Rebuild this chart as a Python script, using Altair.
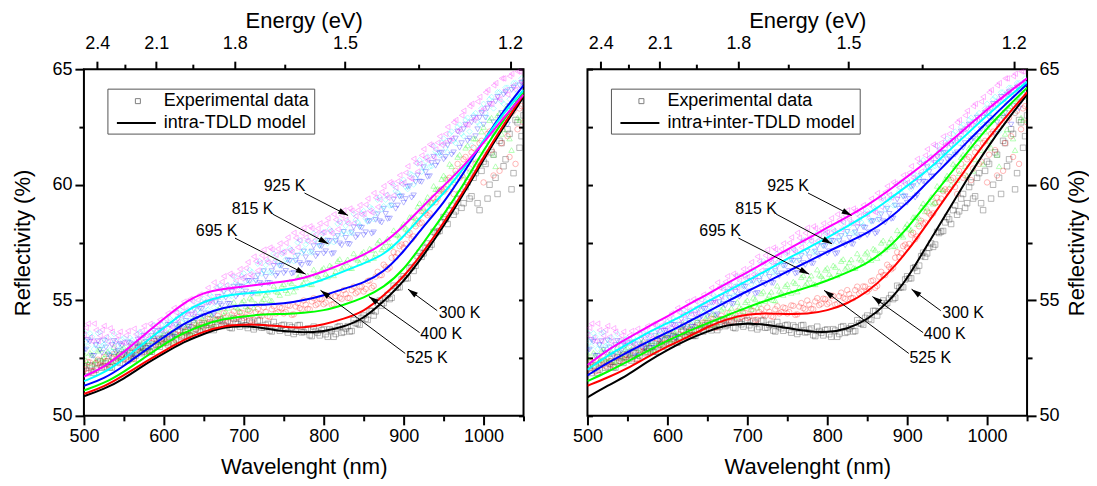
import math
import altair as alt
import pandas as pd

FONT = "Arial"
HC = 1239.84
W, H = 440, 347

TEMPS = ["300 K", "400 K", "525 K", "695 K", "815 K", "925 K"]
COLORS = ["#000000", "#FF0000", "#00FF00", "#0000FF", "#00FFFF", "#FF00FF"]
SHAPES = ["square", "circle", "triangle-up", "triangle-down", "diamond", "triangle-left"]

WAVELENGTH = [
    500, 505, 510, 515, 520, 525, 530, 535, 540, 545,
    550, 555, 560, 565, 570, 575, 580, 585, 590, 595,
    600, 605, 610, 615, 620, 625, 630, 635, 640, 645,
    650, 655, 660, 665, 670, 675, 680, 685, 690, 695,
    700, 705, 710, 715, 720, 725, 730, 735, 740, 745,
    750, 755, 760, 765, 770, 775, 780, 785, 790, 795,
    800, 805, 810, 815, 820, 825, 830, 835, 840, 845,
    850, 855, 860, 865, 870, 875, 880, 885, 890, 895,
    900, 905, 910, 915, 920, 925, 930, 935, 940, 945,
    950, 955, 960, 965, 970, 975, 980, 985, 990, 995,
    1000, 1005, 1010, 1015, 1020, 1025, 1030, 1035, 1040, 1045,
    1050,
]
WAVELENGTH_MID = [
    502.5, 507.5, 512.5, 517.5, 522.5, 527.5, 532.5, 537.5, 542.5, 547.5,
    552.5, 557.5, 562.5, 567.5, 572.5, 577.5, 582.5, 587.5, 592.5, 597.5,
    602.5, 607.5, 612.5, 617.5, 622.5, 627.5, 632.5, 637.5, 642.5, 647.5,
    652.5, 657.5, 662.5, 667.5, 672.5, 677.5, 682.5, 687.5, 692.5, 697.5,
    702.5, 707.5, 712.5, 717.5, 722.5, 727.5, 732.5, 737.5, 742.5, 747.5,
    752.5, 757.5, 762.5, 767.5, 772.5, 777.5, 782.5, 787.5, 792.5, 797.5,
    802.5, 807.5, 812.5, 817.5, 822.5, 827.5, 832.5, 837.5, 842.5, 847.5,
    852.5, 857.5, 862.5, 867.5, 872.5, 877.5, 882.5, 887.5, 892.5, 897.5,
    902.5, 907.5, 912.5, 917.5, 922.5, 927.5, 932.5, 937.5, 942.5, 947.5,
    952.5, 957.5, 962.5, 967.5, 972.5, 977.5, 982.5, 987.5, 992.5, 997.5,
    1002.5, 1007.5, 1012.5, 1017.5, 1022.5, 1027.5, 1032.5, 1037.5, 1042.5, 1047.5,
]

EXP_300 = [
    52.14, 51.85, 52.14, 52.0, 52.36, 52.13, 52.35, 52.09, 52.38, 52.29,
    52.64, 52.39, 52.71, 52.61, 52.99, 52.78, 53.02, 52.78, 53.09, 52.99,
    53.34, 53.09, 53.41, 53.31, 53.69, 53.48, 53.71, 53.46, 53.76, 53.65,
    53.99, 53.7, 53.98, 53.84, 54.18, 53.93, 54.1, 53.79, 54.03, 53.86,
    54.14, 53.8, 54.03, 53.84, 54.13, 53.83, 53.98, 53.65, 53.87, 53.68,
    53.94, 53.6, 53.83, 53.64, 53.93, 53.63, 53.78, 53.45, 53.67, 53.48,
    53.74, 53.42, 53.69, 53.54, 53.88, 53.63, 53.88, 53.67, 54.01, 53.94,
    54.34, 54.15, 54.54, 54.52, 54.99, 54.88, 55.23, 55.11, 55.54, 55.56,
    56.04, 55.95, 56.43, 56.5, 57.06, 57.03, 57.46, 57.41, 57.91, 58.0,
    58.6, 58.3, 59.1, 58.85, 59.6, 59.2, 60.1, 59.5, 60.5, 58.9,
    61.0, 59.4, 61.4, 60.3, 61.9, 60.8, 62.4, 59.8, 62.8, 61.6,
    63.0,
]
EXP_300_MID = [
    51.95, 52.19, 51.87, 52.3, 52.08, 52.26, 52.1, 52.53, 52.35, 52.56,
    52.46, 52.74, 52.46, 52.92, 52.71, 52.92, 52.77, 53.23, 53.06, 53.27,
    53.16, 53.44, 53.16, 53.62, 53.41, 53.62, 53.46, 53.91, 53.72, 53.92,
    53.79, 54.04, 53.71, 54.14, 53.88, 54.04, 53.82, 54.21, 53.96, 54.1,
    53.92, 54.11, 53.74, 54.11, 53.81, 53.93, 53.69, 54.06, 53.79, 53.91,
    53.72, 53.91, 53.54, 53.91, 53.61, 53.73, 53.49, 53.86, 53.59, 53.71,
    53.53, 53.75, 53.42, 53.84, 53.59, 53.78, 53.65, 54.14, 53.99, 54.24,
    54.2, 54.54, 54.34, 54.88, 54.77, 55.08, 55.05, 55.63, 55.57, 55.9,
    55.95, 56.39, 56.27, 56.91, 56.88, 57.27, 57.31, 57.96, 57.97, 58.37,
    58.5, 58.9, 58.7, 59.4, 59.0, 59.9, 59.4, 60.3, 59.2, 60.6,
    60.9, 60.0, 61.3, 59.6, 61.8, 61.1, 62.2, 60.5, 62.7, 62.1,
]
EXP_400 = [
    51.98, 52.33, 51.93, 52.28, 52.21, 52.54, 52.19, 52.52, 52.37, 52.66,
    52.43, 52.82, 52.45, 52.84, 52.79, 53.14, 52.81, 53.16, 53.03, 53.34,
    53.13, 53.52, 53.15, 53.54, 53.49, 53.84, 53.51, 53.86, 53.73, 54.04,
    53.83, 54.2, 53.81, 54.18, 54.11, 54.44, 54.07, 54.38, 54.21, 54.48,
    54.23, 54.57, 54.15, 54.49, 54.39, 54.69, 54.31, 54.61, 54.43, 54.69,
    54.43, 54.78, 54.37, 54.73, 54.66, 54.99, 54.63, 54.95, 54.79, 55.07,
    54.83, 55.2, 54.81, 55.18, 55.11, 55.44, 55.1, 55.44, 55.3, 55.6,
    55.38, 55.83, 55.54, 56.02, 56.08, 56.54, 56.34, 56.84, 56.87, 57.34,
    57.28, 57.84, 57.64, 58.2, 58.32, 58.84, 58.68, 59.2, 59.24, 59.72,
    59.7, 60.2, 59.9, 60.6, 60.3, 61.1, 60.2, 61.4, 60.9, 61.8,
    60.1, 62.2, 61.5, 62.5, 60.6, 62.8, 62.1, 63.1, 60.9, 63.3,
    62.7,
]
EXP_400_MID = [
    52.04, 52.31, 51.95, 52.43, 52.16, 52.37, 52.18, 52.67, 52.44, 52.65,
    52.51, 52.82, 52.49, 53.0, 52.75, 52.98, 52.8, 53.32, 53.11, 53.34,
    53.21, 53.52, 53.19, 53.7, 53.45, 53.68, 53.51, 54.02, 53.81, 54.04,
    53.9, 54.19, 53.84, 54.33, 54.06, 54.26, 54.05, 54.52, 54.27, 54.46,
    54.28, 54.54, 54.16, 54.62, 54.32, 54.5, 54.28, 54.74, 54.48, 54.66,
    54.49, 54.76, 54.39, 54.88, 54.61, 54.81, 54.61, 55.09, 54.85, 55.05,
    54.9, 55.19, 54.84, 55.33, 55.06, 55.27, 55.09, 55.59, 55.37, 55.59,
    55.49, 55.86, 55.62, 56.23, 56.09, 56.44, 56.41, 57.08, 57.03, 57.41,
    57.44, 57.92, 57.76, 58.44, 58.36, 58.76, 58.76, 59.44, 59.4, 59.8,
    59.8, 60.3, 59.6, 60.9, 60.4, 61.2, 60.7, 61.6, 61.0, 61.9,
    61.3, 62.3, 60.4, 62.6, 61.8, 62.9, 61.2, 63.2, 62.4, 63.4,
]
EXP_525 = [
    52.7, 52.27, 52.64, 52.41, 52.88, 52.5, 52.78, 52.36, 52.74, 52.52,
    52.95, 52.55, 52.95, 52.75, 53.25, 52.9, 53.22, 52.84, 53.26, 53.08,
    53.55, 53.18, 53.61, 53.44, 53.97, 53.65, 53.97, 53.59, 54.01, 53.83,
    54.3, 53.92, 54.34, 54.16, 54.68, 54.35, 54.67, 54.29, 54.71, 54.53,
    55.0, 54.62, 55.04, 54.86, 55.38, 55.05, 55.37, 54.99, 55.41, 55.23,
    55.7, 55.32, 55.74, 55.56, 56.08, 55.75, 56.07, 55.69, 56.11, 55.93,
    56.4, 56.02, 56.44, 56.26, 56.78, 56.45, 56.77, 56.39, 56.81, 56.63,
    57.1, 56.74, 57.18, 57.03, 57.59, 57.3, 57.67, 57.36, 57.85, 57.75,
    58.3, 58.05, 58.6, 58.55, 59.2, 59.0, 59.47, 59.24, 59.81, 59.78,
    60.4, 60.0, 60.8, 60.5, 61.3, 60.4, 61.7, 61.1, 62.0, 60.9,
    62.5, 61.6, 62.9, 60.8, 63.1, 62.4, 63.4, 61.5, 63.7, 62.8,
    63.9,
]
EXP_525_MID = [
    52.41, 52.73, 52.25, 52.82, 52.44, 52.67, 52.4, 52.98, 52.66, 52.89,
    52.68, 53.03, 52.58, 53.18, 52.83, 53.09, 52.86, 53.48, 53.2, 53.47,
    53.29, 53.67, 53.25, 53.88, 53.56, 53.84, 53.61, 54.23, 53.95, 54.22,
    54.04, 54.41, 53.98, 54.6, 54.27, 54.54, 54.31, 54.93, 54.65, 54.92,
    54.74, 55.11, 54.68, 55.3, 54.97, 55.24, 55.01, 55.63, 55.35, 55.62,
    55.44, 55.81, 55.38, 56.0, 55.67, 55.94, 55.71, 56.33, 56.05, 56.32,
    56.14, 56.51, 56.08, 56.7, 56.37, 56.64, 56.41, 57.03, 56.75, 57.02,
    56.85, 57.24, 56.83, 57.49, 57.2, 57.51, 57.34, 58.03, 57.83, 58.18,
    58.1, 58.6, 58.3, 59.05, 58.85, 59.26, 59.18, 59.95, 59.82, 60.24,
    60.3, 60.9, 60.2, 61.2, 60.8, 61.6, 60.6, 62.0, 61.5, 62.3,
    61.9, 62.8, 61.3, 63.0, 62.2, 63.3, 62.0, 63.6, 62.9, 63.8,
]
EXP_695 = [
    52.82, 53.28, 52.6, 53.06, 52.86, 53.26, 52.65, 53.06, 52.75, 53.1,
    52.67, 53.18, 52.56, 53.09, 52.97, 53.46, 52.94, 53.45, 53.24, 53.69,
    53.37, 53.94, 53.37, 53.94, 53.85, 54.36, 53.86, 54.38, 54.18, 54.64,
    54.32, 54.9, 54.34, 54.92, 54.84, 55.36, 54.85, 55.36, 55.15, 55.6,
    55.27, 55.84, 55.27, 55.84, 55.75, 56.26, 55.75, 56.26, 56.05, 56.5,
    56.17, 56.73, 56.15, 56.71, 56.61, 57.11, 56.6, 57.11, 56.9, 57.35,
    57.02, 57.58, 57.0, 57.56, 57.46, 57.96, 57.44, 57.94, 57.72, 58.16,
    57.82, 58.42, 57.88, 58.48, 58.42, 58.96, 58.52, 59.1, 58.96, 59.48,
    59.22, 59.9, 59.44, 60.12, 60.14, 60.76, 60.34, 60.94, 60.82, 61.36,
    61.1, 61.7, 61.3, 62.0, 61.6, 62.4, 61.9, 62.7, 62.1, 62.9,
    62.6, 63.3, 62.2, 63.6, 62.9, 63.9, 62.6, 64.1, 63.3, 64.3,
    63.9,
]
EXP_695_MID = [
    52.87, 53.21, 52.59, 53.23, 52.73, 52.96, 52.59, 53.24, 52.81, 53.04,
    52.75, 53.14, 52.59, 53.3, 52.89, 53.2, 52.93, 53.68, 53.35, 53.68,
    53.48, 53.93, 53.42, 54.17, 53.78, 54.11, 53.85, 54.61, 54.29, 54.63,
    54.43, 54.89, 54.39, 55.15, 54.77, 55.11, 54.84, 55.59, 55.26, 55.59,
    55.38, 55.83, 55.32, 56.07, 55.68, 56.01, 55.74, 56.49, 56.16, 56.49,
    56.27, 56.71, 56.19, 56.93, 56.53, 56.86, 56.59, 57.34, 57.01, 57.34,
    57.12, 57.56, 57.04, 57.78, 57.38, 57.7, 57.42, 58.16, 57.82, 58.14,
    57.94, 58.42, 57.94, 58.72, 58.36, 58.74, 58.54, 59.36, 59.1, 59.5,
    59.38, 59.94, 59.54, 60.4, 60.12, 60.55, 60.37, 61.21, 60.97, 61.39,
    61.2, 61.9, 61.4, 62.3, 61.8, 62.6, 62.0, 62.9, 62.4, 63.1,
    62.9, 63.5, 62.7, 63.8, 63.1, 64.0, 63.4, 64.2, 63.6, 64.4,
]
EXP_815 = [
    53.61, 53.0, 53.42, 53.06, 53.62, 53.07, 53.38, 52.77, 53.21, 52.86,
    53.36, 52.79, 53.27, 52.99, 53.64, 53.17, 53.6, 53.11, 53.67, 53.44,
    54.06, 53.58, 54.13, 53.9, 54.59, 54.17, 54.6, 54.11, 54.67, 54.44,
    55.06, 54.59, 55.15, 54.93, 55.63, 55.22, 55.66, 55.18, 55.75, 55.53,
    56.16, 55.68, 56.23, 56.0, 56.69, 56.27, 56.69, 56.19, 56.74, 56.5,
    57.11, 56.62, 57.16, 56.92, 57.6, 57.17, 57.58, 57.07, 57.61, 57.36,
    57.96, 57.46, 57.99, 57.74, 58.41, 57.97, 58.4, 57.91, 58.47, 58.24,
    58.86, 58.4, 58.97, 58.76, 59.47, 59.07, 59.55, 59.11, 59.72, 59.54,
    60.21, 59.81, 60.44, 60.29, 61.06, 60.72, 61.22, 60.8, 61.43, 61.27,
    62.0, 61.4, 62.3, 61.8, 62.6, 62.1, 62.9, 61.7, 63.1, 62.6,
    63.5, 62.9, 63.8, 62.3, 64.0, 63.5, 64.2, 63.1, 64.4, 63.8,
    64.5,
]
EXP_815_MID = [
    53.21, 53.57, 52.89, 53.58, 53.02, 53.26, 52.84, 53.54, 53.06, 53.31,
    52.97, 53.38, 52.77, 53.55, 53.08, 53.42, 53.12, 53.94, 53.58, 53.95,
    53.72, 54.21, 53.66, 54.48, 54.05, 54.42, 54.12, 54.94, 54.58, 54.95,
    54.73, 55.23, 54.69, 55.52, 55.1, 55.48, 55.19, 56.02, 55.67, 56.05,
    55.82, 56.31, 55.76, 56.58, 56.15, 56.52, 56.21, 57.02, 56.65, 57.01,
    56.77, 57.25, 56.69, 57.5, 57.06, 57.41, 57.09, 57.89, 57.51, 57.86,
    57.61, 58.08, 57.51, 58.31, 57.86, 58.22, 57.92, 58.74, 58.38, 58.75,
    58.53, 59.04, 58.51, 59.35, 58.94, 59.35, 59.1, 59.97, 59.66, 60.08,
    59.91, 60.48, 60.01, 60.91, 60.56, 61.01, 60.78, 61.67, 61.38, 61.82,
    61.6, 62.2, 61.9, 62.5, 62.2, 62.8, 62.3, 63.0, 62.7, 63.3,
    63.1, 63.7, 63.3, 64.0, 63.6, 64.2, 63.7, 64.4, 64.0, 64.6,
]
EXP_925 = [
    53.5, 53.99, 53.23, 53.71, 53.47, 53.89, 53.21, 53.64, 53.28, 53.64,
    53.15, 53.67, 52.97, 53.53, 53.38, 53.89, 53.34, 53.9, 53.67, 54.16,
    53.8, 54.44, 53.83, 54.46, 54.37, 54.94, 54.4, 54.97, 54.75, 55.25,
    54.9, 55.54, 54.93, 55.56, 55.47, 56.04, 55.5, 56.07, 55.85, 56.35,
    56.0, 56.65, 56.05, 56.69, 56.61, 57.19, 56.64, 57.2, 56.97, 57.46,
    57.1, 57.72, 57.09, 57.7, 57.59, 58.14, 57.57, 58.11, 57.86, 58.33,
    57.95, 58.55, 57.9, 58.49, 58.36, 58.89, 58.33, 58.88, 58.64, 59.12,
    58.75, 59.4, 58.8, 59.44, 59.36, 59.94, 59.44, 60.05, 59.87, 60.41,
    60.1, 60.8, 60.25, 60.94, 60.91, 61.54, 61.06, 61.69, 61.53, 62.09,
    61.8, 62.5, 62.0, 62.8, 62.4, 63.2, 62.6, 63.5, 62.9, 63.8,
    63.3, 64.1, 63.5, 64.4, 63.7, 64.6, 63.9, 64.8, 64.1, 64.9,
    64.4,
]
EXP_925_MID = [
    53.81, 53.38, 53.99, 53.23, 53.72, 53.42, 53.79, 53.04, 53.47, 53.17,
    53.48, 53.09, 53.77, 53.1, 53.68, 53.48, 53.98, 53.36, 53.92, 53.75,
    54.19, 53.91, 54.67, 54.06, 54.7, 54.54, 55.05, 54.44, 55.01, 54.85,
    55.29, 55.01, 55.77, 55.16, 55.8, 55.64, 56.15, 55.54, 56.11, 55.95,
    56.39, 56.12, 56.89, 56.29, 56.94, 56.78, 57.28, 56.66, 57.22, 57.05,
    57.48, 57.18, 57.92, 57.29, 57.91, 57.72, 58.2, 57.56, 58.1, 57.91,
    58.32, 58.0, 58.72, 58.07, 58.67, 58.48, 58.97, 58.34, 58.89, 58.71,
    59.14, 58.87, 59.64, 59.04, 59.69, 59.56, 60.11, 59.54, 60.15, 60.03,
    60.52, 60.3, 61.12, 60.57, 61.27, 61.17, 61.74, 61.19, 61.82, 61.72,
    62.2, 61.9, 62.7, 62.3, 63.0, 62.6, 63.4, 62.8, 63.6, 63.2,
    64.0, 63.5, 64.3, 63.8, 64.6, 64.1, 64.7, 64.3, 64.9, 64.5,
]
EXP = [EXP_300, EXP_400, EXP_525, EXP_695, EXP_815, EXP_925]
EXP_MID = [EXP_300_MID, EXP_400_MID, EXP_525_MID, EXP_695_MID, EXP_815_MID, EXP_925_MID]

MODEL_WL = [500, 525, 550, 575, 600, 625, 650, 675, 700, 725, 750, 775,
            800, 825, 850, 875, 900, 925, 950, 975, 1000, 1025, 1050]

# intra-TDLD model (left panel)
LEFT_300 = [50.85, 51.15, 51.6, 52.2, 52.7, 53.2, 53.55, 53.85, 53.9, 53.8, 53.65, 53.6,
            53.65, 53.85, 54.2, 54.95, 55.8, 56.95, 58.2, 59.6, 61.1, 62.5, 63.8]
LEFT_400 = [50.95, 51.25, 51.75, 52.3, 52.8, 53.3, 53.65, 53.9, 53.95, 53.95, 53.85, 53.8,
            53.95, 54.2, 54.5, 55.2, 56.0, 57.1, 58.35, 59.7, 61.2, 62.6, 63.9]
LEFT_525 = [51.1, 51.4, 51.9, 52.5, 53.1, 53.6, 53.95, 54.2, 54.3, 54.4, 54.4, 54.45,
            54.55, 54.8, 55.1, 55.55, 56.3, 57.5, 58.7, 60.0, 61.5, 62.8, 64.0]
LEFT_695 = [51.3, 51.6, 52.15, 52.8, 53.4, 54.0, 54.4, 54.7, 54.8, 54.8, 54.85, 55.0,
            55.2, 55.5, 55.75, 56.2, 57.1, 58.2, 59.2, 60.5, 61.9, 63.2, 64.3]
LEFT_815 = [51.5, 51.85, 52.45, 53.15, 53.8, 54.5, 54.95, 55.2, 55.3, 55.35, 55.45, 55.6,
            55.9, 56.25, 56.6, 56.95, 57.75, 58.75, 59.6, 60.7, 61.9, 63.1, 64.1]
LEFT_925 = [51.7, 52.1, 52.75, 53.5, 54.2, 54.9, 55.35, 55.5, 55.6, 55.7, 55.8, 55.95,
            56.25, 56.6, 56.95, 57.45, 58.2, 59.1, 59.95, 60.8, 61.8, 62.9, 63.9]
LEFT_MODEL = [LEFT_300, LEFT_400, LEFT_525, LEFT_695, LEFT_815, LEFT_925]

# intra+inter-TDLD model (right panel)
RIGHT_300 = [50.8, 51.3, 51.75, 52.35, 52.85, 53.3, 53.65, 53.95, 54.0, 53.95, 53.8, 53.65,
             53.6, 53.75, 54.15, 54.85, 55.9, 57.4, 58.8, 60.25, 61.6, 62.8, 63.9]
RIGHT_400 = [51.3, 51.65, 52.05, 52.55, 53.0, 53.4, 53.85, 54.2, 54.4, 54.45, 54.4, 54.4,
             54.55, 54.85, 55.35, 56.1, 57.1, 58.3, 59.55, 60.75, 61.95, 63.0, 64.0]
RIGHT_525 = [51.5, 51.9, 52.35, 52.8, 53.25, 53.65, 54.0, 54.35, 54.7, 55.0, 55.3, 55.55,
             55.85, 56.2, 56.6, 57.2, 58.1, 59.2, 60.3, 61.4, 62.45, 63.35, 64.2]
RIGHT_695 = [51.75, 52.3, 52.75, 53.2, 53.6, 54.05, 54.5, 54.95, 55.4, 55.8, 56.25, 56.65,
             57.1, 57.5, 57.9, 58.45, 59.2, 60.1, 60.95, 61.85, 62.7, 63.55, 64.35]
RIGHT_815 = [52.0, 52.6, 53.1, 53.6, 54.0, 54.45, 54.95, 55.4, 55.85, 56.3, 56.8, 57.25,
             57.7, 58.2, 58.7, 59.3, 59.95, 60.6, 61.4, 62.2, 63.0, 63.75, 64.45]
RIGHT_925 = [52.2, 52.85, 53.35, 53.85, 54.3, 54.8, 55.25, 55.75, 56.2, 56.7, 57.2, 57.65,
             58.15, 58.6, 59.1, 59.7, 60.35, 61.0, 61.75, 62.5, 63.25, 63.95, 64.6]
RIGHT_MODEL = [RIGHT_300, RIGHT_400, RIGHT_525, RIGHT_695, RIGHT_815, RIGHT_925]

# annotations (data coordinates)
ANNOT_LABELS = ["925 K", "815 K", "695 K", "300 K", "400 K", "525 K"]
ANNOT_TX = [751, 711, 666, 970, 947, 929]
ANNOT_TY = [59.95, 58.97, 58.01, 54.46, 53.52, 52.49]
ARROW_X1 = [776, 736, 689, 942, 920, 902]
ARROW_Y1 = [59.64, 58.73, 57.69, 54.55, 53.6, 52.7]
ARROW_X2 = [830.5, 806, 777.5, 905.5, 856.5, 796]
ARROW_Y2 = [58.67, 57.44, 56.13, 55.48, 55.16, 55.43]

X_MAJOR = [500, 600, 700, 800, 900, 1000]
X_MINOR = [550, 650, 750, 850, 950, 1050]
Y_MAJOR = [50, 55, 60, 65]
Y_MINOR = [52.5, 57.5, 62.5]
Y_ALL = [50, 52.5, 55, 57.5, 60, 62.5, 65]
ENERGY_MAJOR = [2.4, 2.1, 1.8, 1.5, 1.2]
ENERGY_MINOR = [2.25, 1.95, 1.65, 1.35]

LEGEND_EXP = "Experimental data"
LEGEND_MODELS = ["intra-TDLD model", "intra+inter-TDLD model"]

rows = []
for t, vals, mids in zip(TEMPS, EXP, EXP_MID):
    for w, r in zip(WAVELENGTH, vals):
        rows.append({"wl": w, "R": r, "T": t})
    for w, r in zip(WAVELENGTH_MID, mids):
        rows.append({"wl": w, "R": r, "T": t})
exp_df = pd.DataFrame(rows)


def model_frame(model):
    return pd.DataFrame(
        [{"wl": w, "R": r, "T": t} for t, vals in zip(TEMPS, model) for w, r in zip(MODEL_WL, vals)]
    )


sx = W / 550.0
sy = H / 15.0
angles = [
    math.degrees(math.atan2((x2 - x1) * sx, (y2 - y1) * sy)) % 360
    for x1, y1, x2, y2 in zip(ARROW_X1, ARROW_Y1, ARROW_X2, ARROW_Y2)
]
ann_df = pd.DataFrame({
    "label": ANNOT_LABELS, "tx": ANNOT_TX, "ty": ANNOT_TY,
    "x1": ARROW_X1, "y1": ARROW_Y1, "x2": ARROW_X2, "y2": ARROW_Y2, "ang": angles,
})
one = pd.DataFrame({"k": [0]})

XS = alt.Scale(domain=[500, 1050], nice=False, zero=False)
YS = alt.Scale(domain=[50, 65], nice=False, zero=False)
CS = alt.Scale(domain=TEMPS, range=COLORS)
SS = alt.Scale(domain=TEMPS, range=SHAPES)

BASE = dict(grid=False, domain=False, tickColor="black", tickWidth=2,
            labelFont=FONT, labelColor="black", labelFontSize=18, labelFlush=False,
            titleFont=FONT, titleColor="black", titleFontSize=22, titleFontWeight="normal")

ARROW_PATH = "M0,0 L0.3,1 L-0.3,1 Z"


def make_panel(model, model_label, side):
    ax_bottom = alt.Axis(orient="bottom", values=X_MAJOR, tickSize=9, labelPadding=3,
                         title="Wavelenght (nm)", titlePadding=11, format="d", **BASE)
    ax_bottom_minor = alt.Axis(orient="bottom", values=X_MINOR, tickSize=5, labels=False,
                               title=None, **BASE)
    ax_top = alt.Axis(orient="top", values=[round(HC / e, 3) for e in ENERGY_MAJOR], tickSize=8,
                      labelPadding=9, labelExpr="format(1239.84/datum.value, '.1f')",
                      title="Energy (eV)", titlePadding=2, **BASE)
    ax_top_minor = alt.Axis(orient="top", values=[round(HC / e, 3) for e in ENERGY_MINOR],
                            tickSize=5, labels=False, title=None, **BASE)
    if side == "left":
        ax_y = alt.Axis(orient="left", values=Y_MAJOR, tickSize=9, labelPadding=3, format="d",
                        title="Reflectivity (%)", titlePadding=17, titleAngle=270, **BASE)
    else:
        ax_y = alt.Axis(orient="right", values=Y_MAJOR, tickSize=9, labelPadding=3, format="d",
                        title="Reflectivity (%)", titlePadding=7, titleAngle=270,
                        titleBaseline="top", **BASE)
    ax_y_minor = alt.Axis(orient=side, values=Y_MINOR, tickSize=5, labels=False, title=None, **BASE)
    ax_y_in = alt.Axis(orient=side, offset=-W, values=Y_ALL, tickSize=5, labels=False,
                       title=None, **BASE)

    points = alt.Chart(exp_df).mark_point(
        filled=False, size=30, strokeWidth=0.7, opacity=0.4, clip=True
    ).encode(
        x=alt.X("wl:Q", scale=XS, axis=ax_bottom),
        y=alt.Y("R:Q", scale=YS, axis=ax_y),
        color=alt.Color("T:N", scale=CS, legend=None),
        shape=alt.Shape("T:N", scale=SS, legend=None),
    )
    lines = alt.Chart(model_frame(model)).mark_line(
        strokeWidth=2, interpolate="basis", clip=True
    ).encode(
        x=alt.X("wl:Q", scale=XS, axis=ax_bottom_minor),
        y=alt.Y("R:Q", scale=YS, axis=ax_y_minor),
        color=alt.Color("T:N", scale=CS, legend=None),
    )
    texts = alt.Chart(ann_df).mark_text(
        fontSize=16, font=FONT, color="black", align="center", baseline="middle"
    ).encode(
        x=alt.X("tx:Q", scale=XS, axis=ax_top),
        y=alt.Y("ty:Q", scale=YS, axis=ax_y_in),
        text="label:N",
    )
    rules = alt.Chart(ann_df).mark_rule(color="black", strokeWidth=1).encode(
        x=alt.X("x1:Q", scale=XS, axis=ax_top_minor),
        y=alt.Y("y1:Q", scale=YS, axis=None),
        x2="x2:Q",
        y2="y2:Q",
    )
    heads = alt.Chart(ann_df).mark_point(
        shape=ARROW_PATH, filled=True, size=400, color="black", opacity=1, strokeWidth=0
    ).encode(
        x=alt.X("x2:Q", scale=XS, axis=None),
        y=alt.Y("y2:Q", scale=YS, axis=None),
        angle=alt.Angle("ang:Q", scale=None),
    )
    box_right = 231 if side == "left" else 273
    leg_box = alt.Chart(one).mark_rect(fill="white", stroke="#555555", strokeWidth=1).encode(
        x=alt.value(24), x2=alt.value(box_right), y=alt.value(20), y2=alt.value(65)
    )
    leg_sym = alt.Chart(one).mark_point(
        shape="square", filled=False, size=25, color="#808080", strokeWidth=1, opacity=1
    ).encode(x=alt.value(54), y=alt.value(32))
    leg_line = alt.Chart(one).mark_rule(color="black", strokeWidth=2).encode(
        x=alt.value(33), x2=alt.value(72), y=alt.value(54)
    )
    leg_t1 = alt.Chart(one).mark_text(
        text=LEGEND_EXP, font=FONT, fontSize=18, align="left", baseline="middle", color="black"
    ).encode(x=alt.value(80), y=alt.value(32))
    leg_t2 = alt.Chart(one).mark_text(
        text=model_label, font=FONT, fontSize=18, align="left", baseline="middle", color="black"
    ).encode(x=alt.value(80), y=alt.value(54))

    return alt.layer(
        points, lines, rules, heads, texts, leg_box, leg_sym, leg_line, leg_t1, leg_t2
    ).resolve_axis(x="independent", y="independent").properties(width=W, height=H)


left = make_panel(LEFT_MODEL, LEGEND_MODELS[0], "left")
right = make_panel(RIGHT_MODEL, LEGEND_MODELS[1], "right")

chart = alt.hconcat(left, right, spacing=64, bounds="flush").properties(
    padding={"left": 2, "top": 0, "right": 0, "bottom": 4},
    background="white",
).configure_view(stroke="black", strokeWidth=2)

chart.save("out.html", embed_options={"renderer": "svg", "actions": False})
